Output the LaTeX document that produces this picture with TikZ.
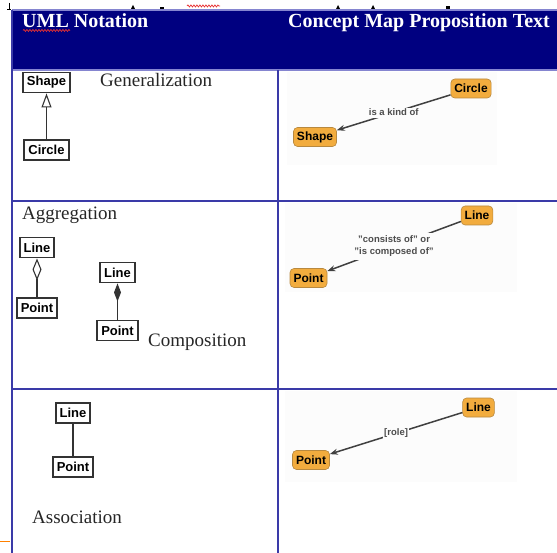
\documentclass[tikz,border=0pt]{standalone}
\usepackage{fontspec}
\setmainfont{Liberation Serif}
\setsansfont{Liberation Sans}
\usetikzlibrary{arrows.meta,decorations.pathmorphing}

\definecolor{headnavy}{HTML}{000080}
\definecolor{gridblue}{HTML}{3A3AA8}
\definecolor{headline}{HTML}{8585D0}
\definecolor{cmorange}{HTML}{F2AC3E}
\definecolor{cmborder}{HTML}{B8893F}
\definecolor{cmbg}{HTML}{FCFCFC}
\definecolor{umlgray}{HTML}{333333}
\definecolor{spellred}{HTML}{E83030}

\tikzset{
  grid/.style={draw=gridblue, line width=1.6pt},
  headtext/.style={anchor=base west, text=white, inner sep=0pt,
    font=\bfseries\fontsize{20}{24}\selectfont},
  kindtext/.style={anchor=base west, inner sep=0pt, text=black!85,
    font=\fontsize{19}{22}\selectfont},
  umlbox/.style={draw=umlgray, line width=1.9pt, fill=white, inner xsep=4pt,
    inner ysep=0pt, minimum height=20pt,
    font=\sffamily\bfseries\fontsize{13}{15}\selectfont},
  umlline/.style={draw=umlgray, line width=1.4pt},
  cmnode/.style={draw=cmborder, line width=0.6pt, fill=cmorange,
    rounded corners=4pt, inner xsep=3.5pt, inner ysep=0pt, minimum height=19pt,
    font=\sffamily\bfseries\fontsize{12}{14}\selectfont},
  cmlink/.style={draw=black!75, line width=1.5pt,
    -{Stealth[length=8pt,width=6pt]}},
  cmlabel/.style={fill=cmbg, inner sep=1.5pt, align=center, text=black!70,
    font=\sffamily\bfseries\fontsize{9.5}{12}\selectfont},
  squiggle/.style={draw=spellred, line width=0.7pt, decorate,
    decoration={snake, amplitude=1pt, segment length=3pt}}
}

\begin{document}
\begin{tikzpicture}[x=1pt, y=-1pt]
\useasboundingbox (0,0) rectangle (557,553);
\fill[white] (0,0) rectangle (557,553);

% fragments of the line above the table
\draw[black, line width=0.8pt] (9,3) -- (9,10) (7,9) -- (11,9);
\fill[black] (131,9) -- (133,5) -- (135,9) -- cycle;
\fill[black] (160,7) rectangle (164,9);
\draw[squiggle] (187,6) -- (220,6);
\fill[black] (336,9) -- (338,5) -- (340,9) -- cycle;
\fill[black] (371,9) -- (373,5) -- (375,9) -- cycle;
\fill[black] (446,6) rectangle (450,9);

% header row
\fill[headnavy] (12,10) rectangle (557,70);
\draw[headline, line width=1.2pt] (12,10) -- (557,10);
\node[headtext] (hdUML) at (22,28) {UML Notation};
\draw[squiggle] (23,30.5) -- (70,30.5);
\node[headtext] (hdCM) at (288,28) {Concept Map Proposition Text};

% faint backgrounds of the concept map panels
\fill[cmbg] (287,72) rectangle (497,165);
\fill[cmbg] (285,203) rectangle (517,292);
\fill[cmbg] (285,391) rectangle (517,482);

% table rules
\draw[headline, line width=1.6pt] (12,70) -- (557,70);
\draw[grid] (12,10) -- (12,553);
\draw[grid] (278,70) -- (278,553);
\draw[grid] (12,201) -- (557,201);
\draw[grid] (12,389) -- (557,389);
\draw[draw=orange, line width=1pt] (0,541) -- (10,541);

% row 1: generalization
\node[umlbox] (gShape) at (46.5,82.5) {Shape};
\node[umlbox] (gCircle) at (46.5,150) {Circle};
\draw[umlline, -{Triangle[open, width=10pt, length=14pt, line width=1.1pt]}]
  (gCircle.north) -- (gShape.south);
\node[kindtext] (tGen) at (100,87) {Generalization};

\node[cmnode] (cCircle) at (471,88.5) {Circle};
\node[cmnode] (cShape) at (315,137) {Shape};
\draw[cmlink] (cCircle) -- node[cmlabel] (lKind) {is a kind of} (cShape);

% row 2: aggregation and composition
\node[kindtext] (tAgg) at (22,220) {Aggregation};
\node[umlbox] (aLine) at (37,247.5) {Line};
\node[umlbox] (aPoint) at (37,308) {Point};
\draw[umlline, {Diamond[open, width=9pt, length=22pt, line width=1.1pt]}-]
  (aLine.south) -- (aPoint.north);

\node[umlbox] (kLine) at (117.5,272.5) {Line};
\node[umlbox] (kPoint) at (117.5,330.5) {Point};
\draw[umlline, {Diamond[width=7pt, length=18pt]}-]
  (kLine.south) -- (kPoint.north);
\node[kindtext] (tComp) at (148,347) {Composition};

\node[cmnode] (cLine2) at (477,215.5) {Line};
\node[cmnode] (cPoint2) at (308.5,278) {Point};
\draw[cmlink] (cLine2) -- node[cmlabel, inner xsep=4pt, inner ysep=3pt] (lConsist)
  {"consists of" or\\"is composed of"} (cPoint2);

% row 3: association
\node[umlbox] (sLine) at (73,413) {Line};
\node[umlbox] (sPoint) at (73,467) {Point};
\draw[umlline] (sLine.south) -- (sPoint.north);
\node[kindtext] (tAssoc) at (32,523) {Association};

\node[cmnode] (cLine3) at (478.5,407.5) {Line};
\node[cmnode] (cPoint3) at (311,460) {Point};
\draw[cmlink] (cLine3) -- node[cmlabel] (lRole) {[role]} (cPoint3);
\end{tikzpicture}
\end{document}
